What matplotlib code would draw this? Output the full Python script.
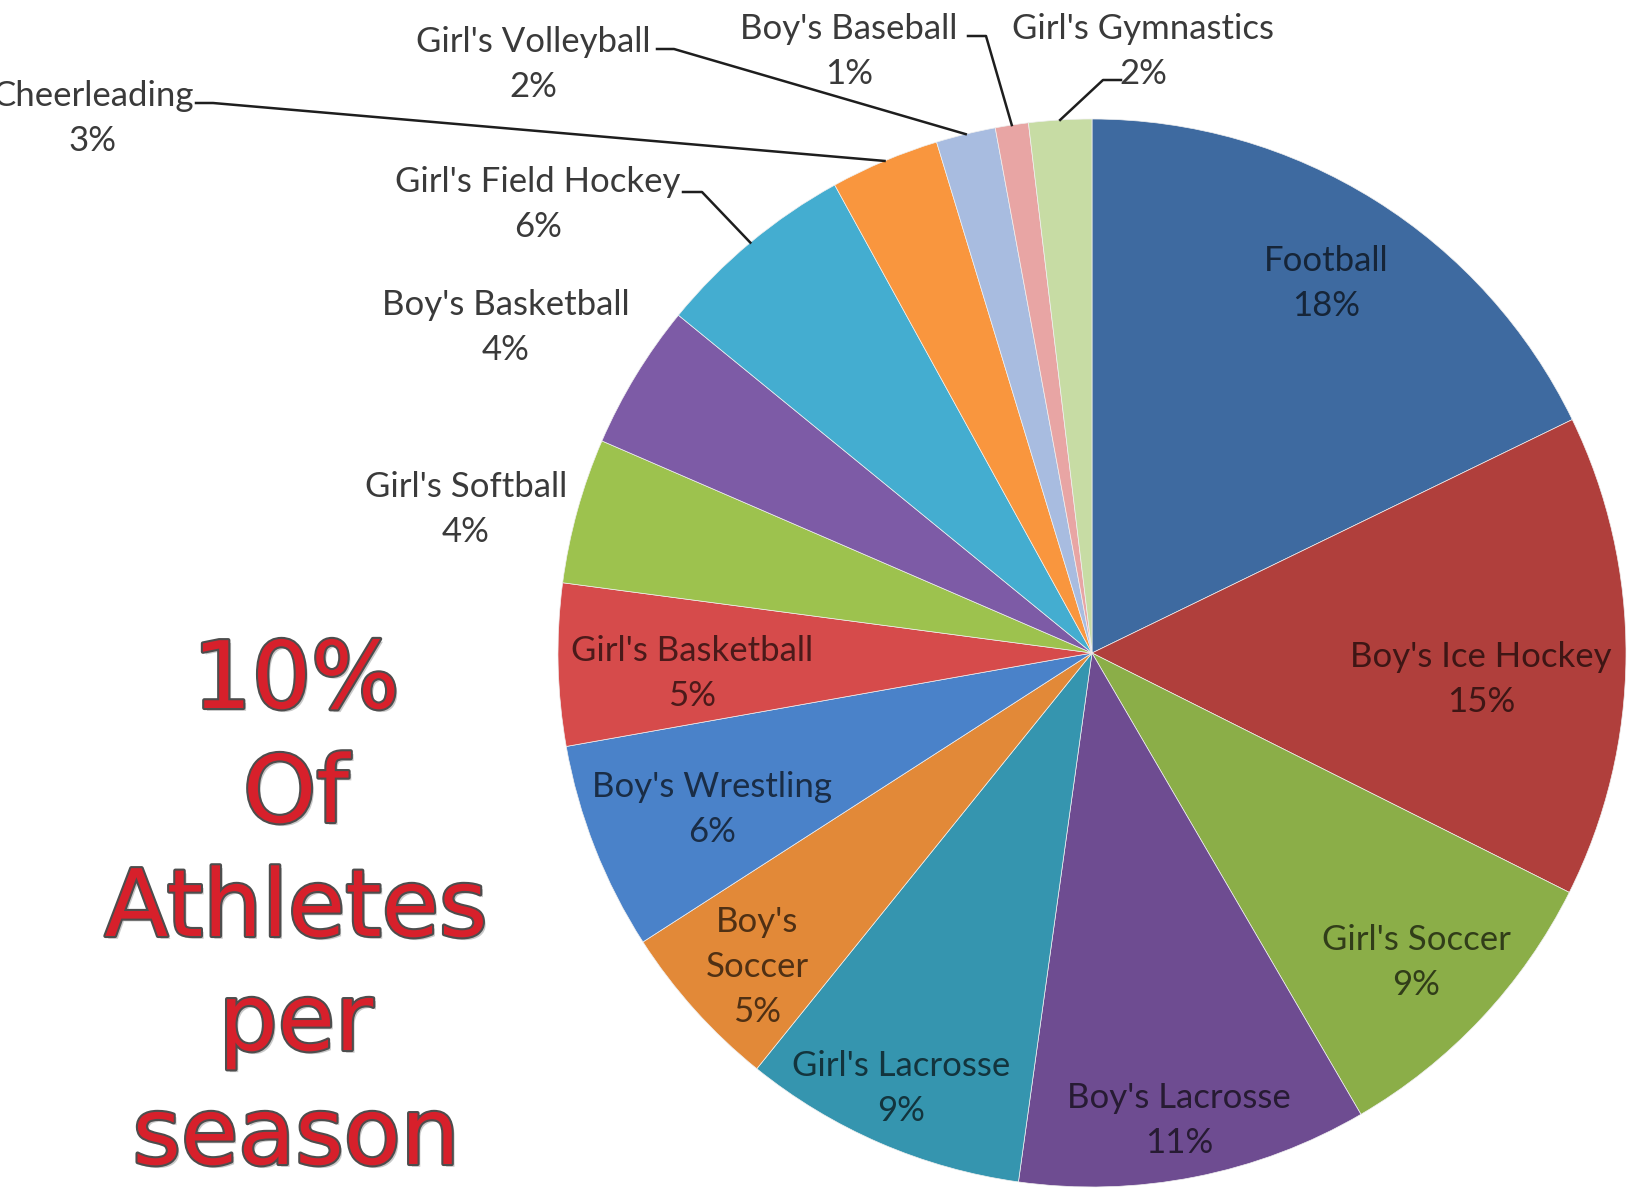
import numpy as np
import matplotlib
matplotlib.use("Agg")
import matplotlib.pyplot as plt
import matplotlib.patheffects as pe
from matplotlib.colors import to_rgb

plt.rcParams['font.family'] = ['Lato', 'DejaVu Sans']

W, H = 1632, 1195

# data, clockwise from 12 o'clock
sports = ["Football", "Boy's Ice Hockey", "Girl's Soccer", "Boy's Lacrosse",
          "Girl's Lacrosse", "Boy's Soccer", "Boy's Wrestling", "Girl's Basketball",
          "Girl's Softball", "Boy's Basketball", "Girl's Field Hockey", "Cheerleading",
          "Girl's Volleyball", "Boy's Baseball", "Girl's Gymnastics"]
shares = [17.8, 14.6, 9.2, 10.6, 8.6, 5.1, 6.3, 4.9, 4.4, 4.4, 6.1, 3.3, 1.8, 1.0, 1.9]
colors = ["#3E6AA0", "#B03F3C", "#8BAE48", "#6E4C91", "#3595AF", "#E28938",
          "#4A82C9", "#D64B4B", "#9DC24E", "#7D5BA6", "#44ADD0", "#F9963E",
          "#A8BCE0", "#E8A5A4", "#C7DCA4"]
headline = ["10%", "Of", "Athletes", "per", "season"]

# layout (pixels, y measured from the top)
cx, cy, R = 1092, 653, 534
# inside labels: (fraction of radius, angle nudge from wedge middle in degrees)
inside = {"Football": (0.82, -0.3), "Boy's Ice Hockey": (0.73, -3.6),
          "Girl's Soccer": (0.84, -0.5), "Boy's Lacrosse": (0.89, -0.6),
          "Girl's Lacrosse": (0.89, -0.3), "Boy's Soccer": (0.86, 1.2),
          "Boy's Wrestling": (0.77, 0.9), "Girl's Basketball": (0.75, 1.7)}
outside = {"Girl's Softball": (466, 509), "Boy's Basketball": (506, 327),
           "Girl's Field Hockey": (538, 204), "Cheerleading": (93, 118),
           "Girl's Volleyball": (533, 64), "Boy's Baseball": (849, 51),
           "Girl's Gymnastics": (1143, 51)}
leaders = {"Girl's Field Hockey": (683, 702, 192), "Cheerleading": (196, 213, 103),
           "Girl's Volleyball": (657, 674, 49), "Boy's Baseball": (968, 986, 36),
           "Girl's Gymnastics": (1121, 1103, 80)}

fig = plt.figure(figsize=(W / 100, H / 100), dpi=100)
fig.patch.set_facecolor("white")
ax = fig.add_axes([0, 0, 1, 1])

wedges, _ = ax.pie(shares, colors=colors, startangle=90, counterclock=False,
                   center=(cx, H - cy), radius=R, frame=True,
                   wedgeprops=dict(edgecolor="#f0f0f0", linewidth=0.5))
ax.set_xlim(0, W)
ax.set_ylim(0, H)
ax.set_aspect("equal")
ax.axis("off")

for name, w, val in zip(sports, wedges, shares):
    mid = (w.theta1 + w.theta2) / 2
    text = name.replace("Boy's Soccer", "Boy's\nSoccer") + "\n%.0f%%" % val
    if name in inside:
        frac, nudge = inside[name]
        a = np.deg2rad(mid + nudge)
        tx, ty = cx + frac * R * np.cos(a), H - cy + frac * R * np.sin(a)
        dark = tuple(c * 0.35 for c in to_rgb(w.get_facecolor()))
        ax.text(tx, ty, text, ha="center", va="center", fontsize=25,
                color=dark, linespacing=1.5)
    else:
        x, y = outside[name]
        ax.text(x, H - y, text, ha="center", va="center", fontsize=25,
                color="#3a3a3a", linespacing=1.5)
        if name in leaders:
            x0, x1, y0 = leaders[name]
            a = np.deg2rad(mid)
            rx, ry = cx + R * np.cos(a), H - cy + R * np.sin(a)
            ax.plot([x0, x1, rx], [H - y0, H - y0, ry], color="#1e1e1e", lw=1.8)

for i, line in enumerate(headline):
    ax.text(296, H - (708 + 114 * i), line, ha="center", va="baseline",
            fontsize=67, family="DejaVu Sans", color="#D7202B",
            path_effects=[pe.SimplePatchShadow(offset=(2, -2), shadow_rgbFace="#888888", alpha=0.45),
                          pe.Stroke(linewidth=3, foreground="#4d4d4d"),
                          pe.Normal()])

fig.savefig("out.png", dpi=100, facecolor="white")
